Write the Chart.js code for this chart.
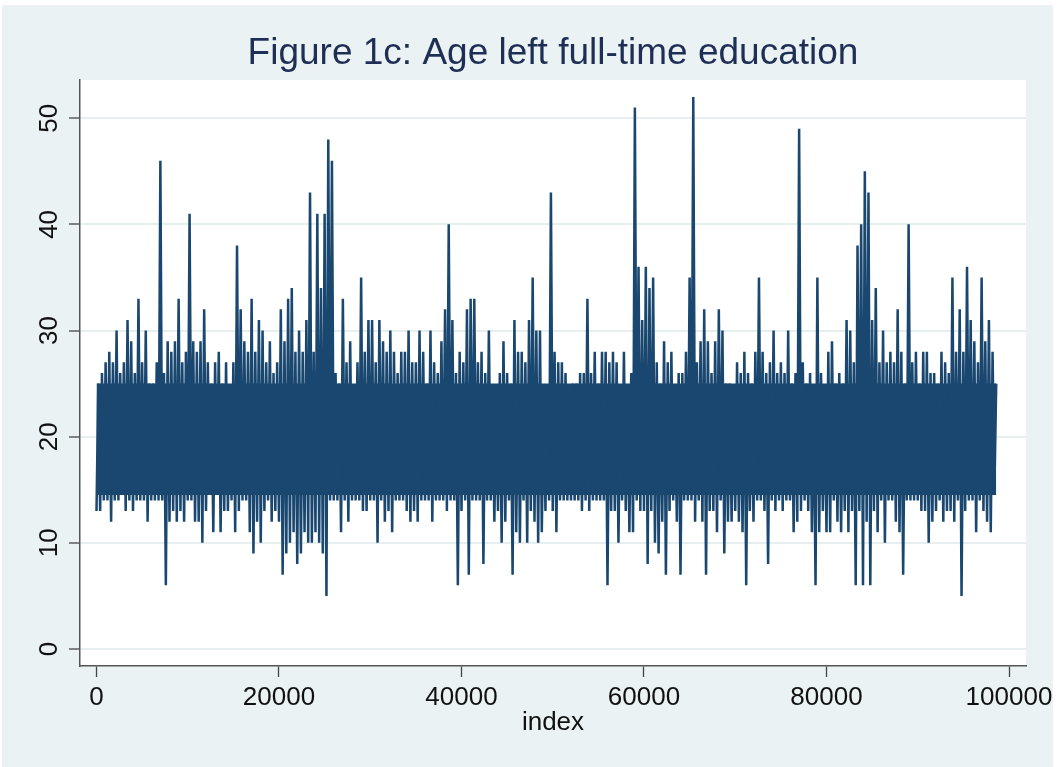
<!DOCTYPE html>
<html>
<head>
<meta charset="utf-8">
<script src="https://cdn.jsdelivr.net/npm/chart.js@4"></script>
<style>
  html, body { margin: 0; padding: 0; background: #fff; }
  #wrap { position: relative; width: 1058px; height: 767px; }
</style>
</head>
<body>
<div id="wrap"><canvas id="eduChart"></canvas></div>
<script>
// each bin covers 400 observations: lowest and highest age seen in it
const binSize = 400;

const ageMin = [
  13, 13, 14, 14, 12, 14, 14, 15, 13, 14, 13, 14, 14, 14, 12, 14, 14, 14, 14, 6,
  12, 13, 12, 13, 12, 14, 14, 12, 12, 10, 13, 15, 11, 15, 11, 13, 13, 14, 11, 13,
  14, 14, 11, 9, 12, 10, 13, 14, 12, 13, 12, 7, 9, 10, 11, 8, 9, 11, 10, 10,
  11, 10, 9, 5, 14, 14, 14, 11, 14, 12, 14, 14, 14, 13, 13, 14, 14, 10, 14, 12,
  13, 11, 14, 14, 14, 13, 12, 13, 12, 14, 14, 14, 12, 14, 14, 14, 13, 14, 14, 6,
  13, 14, 7, 14, 14, 14, 8, 14, 14, 12, 13, 10, 12, 14, 7, 11, 10, 14, 10, 13,
  12, 10, 11, 13, 14, 13, 11, 14, 14, 14, 14, 14, 14, 13, 14, 13, 14, 14, 14, 14,
  6, 13, 13, 10, 14, 13, 11, 11, 14, 13, 13, 8, 13, 10, 9, 12, 7, 13, 14, 12,
  7, 14, 14, 14, 12, 14, 12, 7, 13, 13, 11, 14, 9, 12, 12, 13, 12, 11, 6, 13,
  12, 14, 14, 13, 8, 14, 13, 14, 13, 14, 14, 11, 12, 13, 14, 13, 11, 6, 11, 13,
  11, 11, 14, 12, 11, 13, 11, 13, 6, 13, 6, 12, 6, 13, 11, 14, 10, 14, 14, 12,
  11, 7, 14, 14, 14, 14, 13, 13, 10, 12, 13, 14, 12, 13, 13, 12, 14, 5, 13, 14,
  14, 11, 14, 13, 12, 11, 15
];

const ageMax = [
  25, 26, 27, 28, 27, 30, 26, 27, 31, 29, 26, 33, 27, 30, 25, 25, 27, 46, 26, 29,
  28, 29, 33, 27, 28, 41, 29, 28, 29, 32, 27, 25, 27, 28, 25, 27, 24, 27, 38, 32,
  29, 28, 33, 28, 31, 30, 27, 29, 26, 27, 32, 29, 33, 34, 28, 30, 28, 31, 43, 28,
  41, 34, 41, 48, 46, 26, 25, 33, 27, 29, 24, 27, 35, 28, 31, 31, 27, 31, 29, 28,
  30, 28, 26, 28, 28, 30, 27, 27, 30, 28, 25, 30, 27, 26, 29, 32, 40, 31, 26, 28,
  27, 32, 33, 33, 27, 28, 26, 30, 24, 23, 26, 29, 26, 25, 31, 28, 28, 27, 31, 35,
  30, 30, 24, 24, 43, 28, 27, 27, 26, 24, 25, 25, 26, 26, 33, 26, 28, 25, 28, 28,
  27, 28, 27, 24, 28, 24, 26, 51, 36, 31, 36, 34, 35, 27, 25, 29, 27, 28, 24, 26,
  26, 28, 35, 52, 27, 29, 32, 29, 26, 29, 32, 30, 25, 25, 24, 27, 26, 28, 26, 25,
  28, 35, 28, 26, 27, 30, 26, 27, 26, 30, 25, 26, 49, 27, 25, 26, 24, 35, 26, 24,
  28, 29, 25, 26, 25, 31, 30, 27, 38, 40, 45, 43, 31, 34, 27, 30, 27, 28, 27, 32,
  28, 25, 40, 27, 28, 25, 28, 28, 26, 26, 25, 28, 27, 26, 35, 28, 32, 28, 36, 31,
  29, 27, 35, 29, 31, 28, 25
];

// range that every bin fills solidly (observations overlap completely there)
const coreIndex = [0, 98600];
const coreLow = [14.5, 14.5];
const coreHigh = [25, 25];

const xTicks = [0, 20000, 40000, 60000, 80000, 100000];
const yTicks = [0, 10, 20, 30, 40, 50];

const points = [];
ageMin.forEach((lo, i) => {
  points.push({ x: i * binSize, y: lo });
  points.push({ x: i * binSize + binSize / 2, y: ageMax[i] });
});

const backdrop = {
  id: 'backdrop',
  beforeDraw(chart) {
    const { ctx, chartArea: a } = chart;
    ctx.save();
    ctx.fillStyle = '#EAF2F3';
    ctx.fillRect(2, 5, 1051, 762);
    ctx.fillStyle = '#ffffff';
    ctx.fillRect(a.left, a.top, a.right - a.left, a.bottom - a.top);
    ctx.restore();
  }
};

const navy = '#1A476F';
const tickFont = { family: 'Liberation Sans, Arial, sans-serif', size: 26 };

new Chart(document.getElementById('eduChart'), {
  type: 'line',
  data: {
    datasets: [
      {
        data: points,
        borderColor: navy,
        borderWidth: 2.5,
        borderJoinStyle: 'bevel',
        pointRadius: 0,
        tension: 0,
        fill: false
      },
      {
        data: coreIndex.map((x, i) => ({ x, y: coreHigh[i] })),
        borderWidth: 0,
        pointRadius: 0,
        backgroundColor: navy,
        fill: '+1'
      },
      {
        data: coreIndex.map((x, i) => ({ x, y: coreLow[i] })),
        borderWidth: 0,
        pointRadius: 0,
        fill: false
      }
    ]
  },
  options: {
    responsive: true,
    maintainAspectRatio: false,
    animation: false,
    layout: { padding: { left: 0, right: 32, top: 0, bottom: 0 } },
    plugins: {
      legend: { display: false },
      tooltip: { enabled: false },
      title: {
        display: true,
        fullSize: false,
        text: 'Figure 1c: Age left full-time education',
        color: '#1F2E55',
        font: { family: 'Liberation Sans, Arial, sans-serif', size: 37, weight: 'normal' },
        padding: { top: 32, bottom: 3.6 }
      }
    },
    scales: {
      x: {
        type: 'linear',
        min: -1808,
        max: 101863,
        afterBuildTicks: s => { s.ticks = xTicks.map(v => ({ value: v })); },
        afterFit: s => { s.height = 101; s.paddingLeft = 0; s.paddingRight = 0; },
        grid: { drawOnChartArea: false, drawTicks: true, tickLength: 11, tickColor: '#444', tickWidth: 1.3 },
        border: { color: '#555', width: 1.5 },
        ticks: { color: '#111', font: tickFont, padding: 5, maxRotation: 0, autoSkip: false, callback: v => String(v) },
        title: { display: true, text: 'index', color: '#111', font: tickFont, padding: { top: 0, bottom: 29 } }
      },
      y: {
        min: -1.6,
        max: 53.6,
        afterBuildTicks: s => { s.ticks = yTicks.map(v => ({ value: v })); },
        afterFit: s => { s.width = 80; s.paddingTop = 0; s.paddingBottom = 0; },
        grid: { color: '#E6EEF0', lineWidth: 2, tickLength: 11, tickColor: '#444', tickWidth: 1.3 },
        border: { color: '#555', width: 1.5 },
        ticks: { color: '#111', font: tickFont, padding: 4.5, minRotation: 90, maxRotation: 90, crossAlign: 'center', callback: v => String(v) }
      }
    }
  },
  plugins: [backdrop]
});
</script>
</body>
</html>
